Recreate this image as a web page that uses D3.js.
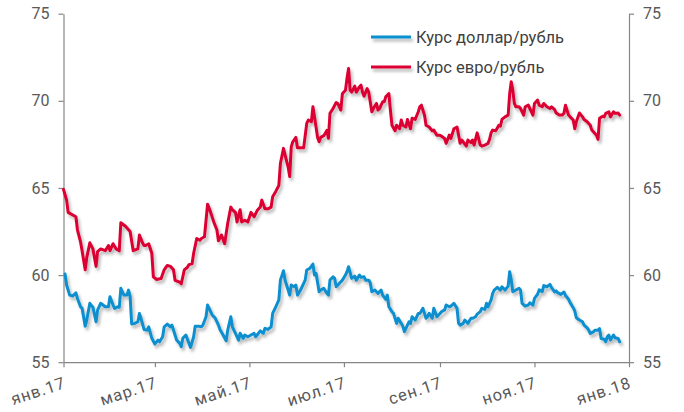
<!DOCTYPE html>
<html><head><meta charset="utf-8">
<script src="https://cdn.jsdelivr.net/npm/d3@7"></script>
<style>body{margin:0;background:#fff}svg{display:block}</style>
</head><body>
<svg id="c" width="684" height="412"></svg>
<script>
const seriesNames = ["Курс доллар/рубль", "Курс евро/рубль"];
const seriesColors = ["#0A8FCF", "#DC0033"];
const yTicks = [55, 60, 65, 70, 75];
const xTickDates = ["2017-01-01","2017-03-01","2017-05-01","2017-07-01","2017-09-01","2017-11-01","2018-01-01"];
const xTickLabels = ["янв.17","мар.17","май.17","июл.17","сен.17","ноя.17","янв.18"];

const usdDates = ["01-02","01-03","01-05","01-07","01-09","01-10","01-12","01-13","01-15","01-16","01-18","01-20","01-22","01-23","01-25","01-28","01-30","01-31",
"02-02","02-03","02-05","02-06","02-07","02-09","02-11","02-12","02-13","02-14","02-16","02-18","02-19","02-20","02-22","02-24","02-25","02-27",
"03-01","03-03","03-04","03-06","03-07","03-09","03-11","03-12","03-14","03-15","03-17","03-18","03-19","03-21","03-23","03-24","03-26","03-27","03-29","03-31",
"04-01","04-03","04-04","04-06","04-07","04-09","04-11","04-12","04-14","04-16","04-17","04-19","04-20","04-22","04-24","04-25","04-27","04-28","04-30",
"05-02","05-04","05-05","05-06","05-08","05-10","05-11","05-13","05-15","05-16","05-18","05-20","05-21","05-23","05-24","05-26","05-27","05-28","05-30","05-31",
"06-01","06-03","06-04","06-06","06-07","06-09","06-11","06-12","06-13","06-15","06-16","06-18","06-20","06-21","06-22","06-24","06-25","06-26","06-28","06-30",
"07-02","07-03","07-04","07-06","07-08","07-09","07-11","07-12","07-14","07-15","07-17","07-18","07-19","07-21","07-22","07-23","07-25","07-26","07-28","07-29","07-30",
"08-01","08-02","08-04","08-05","08-07","08-08","08-09","08-11","08-12","08-13","08-14","08-16","08-18","08-19","08-21","08-23","08-24","08-25","08-27","08-28","08-30",
"09-01","09-02","09-04","09-05","09-07","09-08","09-10","09-12","09-13","09-14","09-16","09-17","09-19","09-21","09-22","09-24","09-25","09-27","09-28","09-30",
"10-01","10-02","10-04","10-05","10-06","10-08","10-10","10-11","10-13","10-15","10-16","10-17","10-18","10-20","10-22","10-23","10-24","10-26","10-28","10-29","10-31",
"11-01","11-03","11-04","11-06","11-07","11-09","11-11","11-12","11-14","11-15","11-16","11-18","11-20","11-21","11-23","11-24","11-26","11-27","11-28","11-30",
"12-02","12-03","12-05","12-06","12-07","12-09","12-10","12-12","12-13","12-14","12-16","12-17","12-18","12-19","12-20","12-22","12-23","12-25","12-26"];
const usdValues = [60.06,59.43,58.85,58.8,58.98,58.66,58.18,58.09,57.07,57.42,58.38,58.15,57.32,57.99,58.38,58.18,58.18,58.76,
58.28,58.09,58.18,58.15,59.24,58.85,58.85,59.14,58.76,57.19,57.23,57.32,57.8,57.52,56.88,56.84,57.03,56.37,
56.05,56.27,56.17,56.46,57.03,57.19,57.03,57.13,56.56,56.27,56.08,55.89,56.37,56.56,56.08,55.85,56.46,57.07,57.07,57.03,
57.13,57.61,58.28,57.9,57.71,57.52,57.13,56.88,56.56,56.23,56.84,57.61,57.03,56.66,56.27,56.66,56.37,56.56,56.46,
56.56,56.66,56.46,56.56,56.8,56.66,56.94,56.88,57.03,57.8,58.18,58.57,59.71,60.25,59.71,59.14,58.85,59.43,59.33,59.43,
58.85,59.14,59.33,59.71,60.29,60.38,60.63,60.0,60.1,59.04,59.14,59.24,58.95,58.85,59.71,59.9,59.81,59.33,59.52,59.71,
60.0,60.2,60.48,59.81,59.94,59.71,60.0,59.87,59.9,59.71,59.71,59.56,59.04,59.14,59.04,58.95,59.14,58.85,58.61,58.85,58.18,
57.9,57.8,57.23,57.52,57.23,57.07,56.75,57.13,57.32,57.23,57.61,57.42,57.8,57.8,58.09,57.52,57.61,57.8,57.52,58.09,57.61,
57.8,57.9,58.0,58.28,58.18,58.22,58.38,58.09,57.23,57.13,57.23,57.42,57.23,57.52,57.52,57.61,57.76,57.9,58.09,58.03,
58.38,58.18,58.57,58.95,59.14,59.3,59.14,59.33,59.14,59.37,60.19,59.71,59.04,59.14,59.24,59.14,58.38,58.22,58.28,58.41,58.28,
58.66,58.9,59.15,59.05,59.4,59.33,59.47,59.28,59.03,59.09,58.99,58.89,59.03,58.83,58.61,58.42,58.13,57.94,57.55,57.42,
57.32,57.13,56.97,56.84,56.65,56.74,56.84,56.84,56.93,56.36,56.32,56.17,56.46,56.56,56.27,56.56,56.4,56.36,56.17];

const eurDates = ["01-01","01-03","01-04","01-07","01-09","01-10","01-12","01-13","01-15","01-16","01-18","01-20","01-22","01-23","01-25","01-28","01-30","01-31",
"02-02","02-04","02-06","02-07","02-10","02-12","02-13","02-15","02-18","02-19","02-21","02-22","02-23","02-25","02-27","02-28",
"03-02","03-05","03-07","03-09","03-11","03-13","03-14","03-17","03-18","03-20","03-22","03-23","03-25","03-26","03-28","03-30","03-31",
"04-02","04-04","04-06","04-08","04-10","04-11","04-13","04-15","04-17","04-19","04-20","04-22","04-23","04-25","04-26","04-28","04-30",
"05-02","05-04","05-06","05-08","05-09","05-11","05-13","05-15","05-16","05-18","05-20","05-21","05-23","05-24","05-26","05-27","05-28","05-29","05-31",
"06-01","06-03","06-05","06-07","06-08","06-10","06-11","06-13","06-14","06-15","06-16","06-18","06-20","06-21","06-22","06-24","06-26","06-27","06-29","06-30",
"07-02","07-03","07-04","07-05","07-06","07-08","07-09","07-11","07-12","07-13","07-14","07-16","07-17","07-19","07-20","07-22","07-23","07-24","07-26","07-27","07-28","07-30","07-31",
"08-01","08-03","08-04","08-06","08-07","08-08","08-10","08-11","08-13","08-14","08-16","08-18","08-19","08-20","08-22","08-23","08-25","08-27","08-28","08-30",
"09-01","09-02","09-04","09-05","09-07","09-08","09-10","09-12","09-13","09-14","09-15","09-16","09-18","09-19","09-21","09-22","09-23","09-25","09-27","09-28","09-30",
"10-02","10-03","10-04","10-05","10-07","10-09","10-10","10-11","10-13","10-15","10-16","10-17","10-18","10-19","10-20","10-22","10-23","10-25","10-26","10-28","10-29","10-31",
"11-01","11-03","11-04","11-06","11-07","11-09","11-11","11-12","11-14","11-15","11-17","11-19","11-20","11-21","11-23","11-24","11-26","11-27","11-28","11-30",
"12-02","12-03","12-05","12-07","12-08","12-10","12-11","12-12","12-13","12-15","12-16","12-17","12-19","12-20","12-22","12-23","12-25","12-26"];
const eurValues = [64.92,64.3,63.6,63.45,63.35,62.6,61.9,61.4,60.3,61.0,61.85,61.5,60.5,61.35,61.5,61.4,61.7,61.4,
61.8,61.5,61.4,63.0,62.8,62.6,62.5,61.4,61.5,62.3,61.85,61.7,61.7,61.8,61.25,59.9,
59.75,59.8,60.3,60.55,60.5,60.3,59.7,59.6,59.5,60.3,60.45,60.6,60.65,61.25,62.1,62.0,62.1,
62.2,64.07,63.6,63.05,62.6,61.97,62.3,61.8,62.97,63.9,63.75,63.6,63.05,63.75,63.05,63.15,63.05,
63.6,63.35,63.7,63.9,64.3,63.8,63.8,63.9,64.5,64.8,65.15,66.4,67.27,66.9,66.2,65.65,67.36,67.65,67.9,
67.3,67.3,67.3,68.7,68.9,68.8,69.66,68.5,67.9,67.65,67.9,68.0,68.3,67.85,69.28,69.56,69.9,69.85,69.47,70.4,
70.6,71.3,71.86,70.6,70.5,70.84,70.5,70.8,70.9,70.5,70.27,70.7,70.5,69.37,69.56,69.85,69.47,69.56,69.94,69.94,70.23,70.42,69.47,
68.6,68.28,68.6,68.4,68.9,68.6,68.5,68.93,68.4,69.0,68.93,69.37,69.66,69.75,69.18,68.6,68.5,68.28,68.32,68.03,
68.03,67.97,67.84,67.56,68.03,67.84,68.4,68.5,68.03,67.56,67.75,67.65,67.4,67.75,67.6,67.75,67.46,68.16,67.46,67.4,67.46,
67.56,67.79,68.16,68.32,68.28,68.6,68.55,68.93,69.08,69.18,70.42,71.1,70.6,69.85,69.66,69.66,69.56,69.18,69.66,69.75,69.56,69.18,
69.85,70.04,69.75,69.66,69.85,69.66,69.56,69.66,69.5,69.3,69.18,69.18,69.28,69.75,69.18,69.08,68.9,68.4,68.8,69.3,
69.08,68.93,68.8,68.6,68.32,68.13,68.03,67.79,69.0,69.12,69.08,69.28,69.37,69.08,69.37,69.28,69.3,69.18];

const parse = d3.timeParse("%Y-%m-%d");
const year = "2017-";
const usd = usdDates.map((d, i) => ({date: parse(year + d), value: usdValues[i]}));
const eur = eurDates.map((d, i) => ({date: parse(year + d), value: eurValues[i]}));

const svg = d3.select("#c");
const L = 63.5, R = 629, T = 13.7, B = 362.2;
const x = d3.scaleTime().domain([parse(xTickDates[0]), parse(xTickDates[xTickDates.length - 1])]).range([L, R]);
const y = d3.scaleLinear().domain([55, 75]).range([B, T]);

const font = "Roboto, 'Open Sans', sans-serif";
const axisColor = "#868686";
const labelColor = "#595959";

const defs = svg.append("defs");
const f = defs.append("filter").attr("id", "sh").attr("filterUnits", "userSpaceOnUse")
  .attr("x", 0).attr("y", 0).attr("width", 684).attr("height", 412);
f.append("feDropShadow").attr("dx", 2).attr("dy", 3).attr("stdDeviation", 1.6)
  .attr("flood-color", "#000").attr("flood-opacity", 0.28);

function styleAxis(g) {
  g.selectAll("path.domain").attr("stroke", axisColor).attr("stroke-width", 1.2);
  g.selectAll(".tick line").attr("stroke", axisColor).attr("stroke-width", 1.2);
  g.selectAll("text").attr("fill", labelColor).style("font-family", font).style("font-size", "16px");
}

const gl = svg.append("g").attr("transform", `translate(${L},0)`)
  .call(d3.axisLeft(y).tickValues(yTicks).tickSize(5).tickSizeOuter(0).tickPadding(9).tickFormat(d3.format("d")));
styleAxis(gl);
const gr = svg.append("g").attr("transform", `translate(${R},0)`)
  .call(d3.axisRight(y).tickValues(yTicks).tickSize(5).tickSizeOuter(0).tickPadding(9).tickFormat(d3.format("d")));
styleAxis(gr);
const gb = svg.append("g").attr("transform", `translate(0,${B})`)
  .call(d3.axisBottom(x).tickValues(xTickDates.map(parse)).tickSize(5).tickSizeOuter(0)
    .tickFormat((d, i) => xTickLabels[i]));
styleAxis(gb);
gb.selectAll("text").attr("x", 0).attr("y", 0).attr("dy", "0.35em")
  .style("font-size", "16.5px").style("letter-spacing", "0.9px")
  .attr("text-anchor", "end").attr("transform", "translate(1,20) rotate(-18)");

const line = d3.line().x(d => x(d.date)).y(d => y(d.value)).curve(d3.curveLinear);
const data = [usd, eur];
data.forEach((s, i) => {
  svg.append("path").datum(s).attr("d", line).attr("fill", "none")
    .attr("stroke", seriesColors[i]).attr("stroke-width", 3)
    .attr("stroke-linejoin", "round").attr("stroke-linecap", "round")
    .attr("filter", "url(#sh)");
});

const legY = [37, 67];
seriesNames.forEach((n, i) => {
  svg.append("line").attr("x1", 371).attr("x2", 411).attr("y1", legY[i]).attr("y2", legY[i])
    .attr("stroke", seriesColors[i]).attr("stroke-width", 3).attr("filter", "url(#sh)");
  svg.append("text").attr("x", 416).attr("y", legY[i]).attr("dy", "0.35em")
    .attr("fill", "#404040").style("font-family", font).style("font-size", "16.5px").text(n);
});
</script>
</body></html>
